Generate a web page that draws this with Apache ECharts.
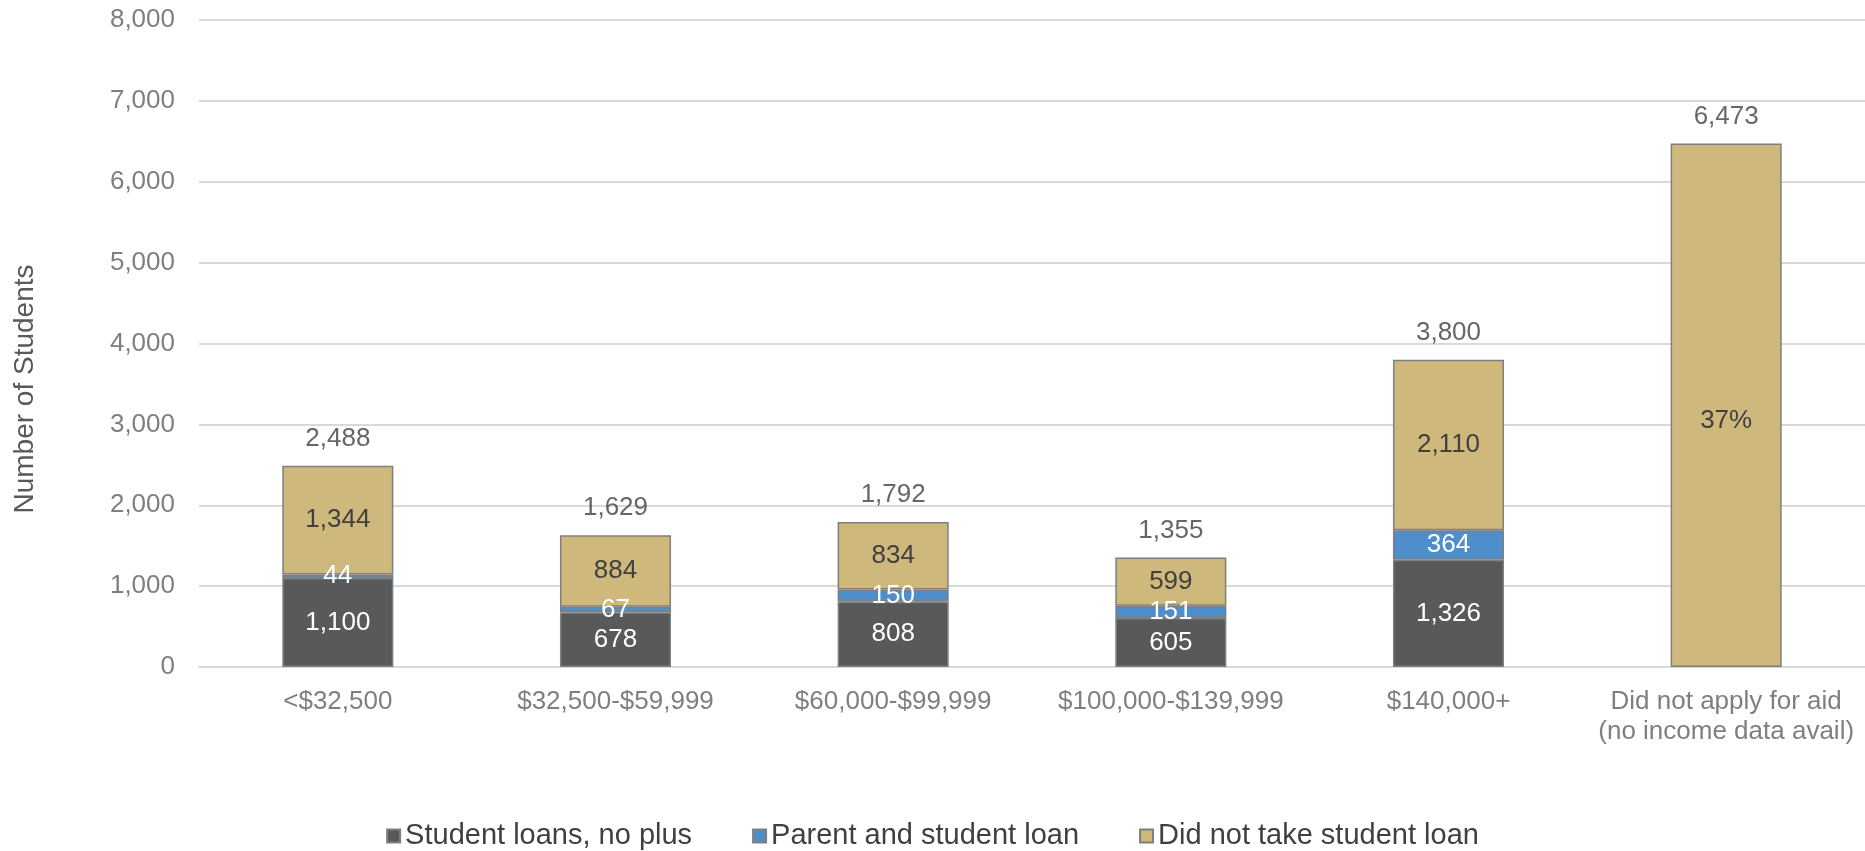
<!DOCTYPE html>
<html>
<head>
<meta charset="utf-8">
<script src="https://cdn.jsdelivr.net/npm/echarts@6/dist/echarts.min.js"></script>
<style>
  html, body { margin: 0; padding: 0; background: #ffffff; }
  #chart { width: 1865px; height: 851px; }
</style>
</head>
<body>
<div id="chart"></div>
<script>
// Income bands of students
const categories = ['<$32,500', '$32,500-$59,999', '$60,000-$99,999', '$100,000-$139,999', '$140,000+', 'Did not apply for aid\n(no income data avail)'];

// Number of students in each borrowing group
const studentLoansNoPlus = [1100, 678, 808, 605, 1326, null];
const parentAndStudentLoan = [44, 67, 150, 151, 364, null];
const didNotTakeLoan = [1344, 884, 834, 599, 2110, 6473];

// Share label shown on the no-aid bar
const noAidShareLabel = '37%';

const seriesNames = ['Student loans, no plus', 'Parent and student loan', 'Did not take student loan'];
const yTitle = 'Number of Students';
const yTicks = { min: 0, max: 8000, step: 1000 };

// Stack totals drawn above each bar
const totals = categories.map((_, i) =>
  (studentLoansNoPlus[i] || 0) + (parentAndStudentLoan[i] || 0) + (didNotTakeLoan[i] || 0));

const FONT = "'Liberation Sans', Arial, sans-serif";
const fmt = v => Number(v).toLocaleString('en-US');

const chart = echarts.init(document.getElementById('chart'), null, { renderer: 'canvas' });

const barBorder = { borderColor: '#7f7f7f', borderWidth: 1.5 };

chart.setOption({
  animation: false,
  backgroundColor: '#ffffff',
  textStyle: { fontFamily: FONT },
  grid: { left: 199, right: 0, top: 20, bottom: 184, containLabel: false },
  // Vertical axis title, placed to the left of the tick labels
  graphic: [{
    type: 'text',
    x: 25,
    y: 389,
    rotation: Math.PI / 2,
    silent: true,
    style: {
      text: yTitle,
      fontFamily: FONT,
      fontSize: 28,
      fill: '#595959',
      align: 'center',
      verticalAlign: 'middle'
    }
  }],
  legend: {
    data: seriesNames,
    top: 816,
    left: 'center',
    itemWidth: 13,
    itemHeight: 13,
    itemGap: 60,
    icon: 'rect',
    textStyle: { fontFamily: FONT, fontSize: 29, lineHeight: 30, color: '#404040' }
  },
  xAxis: {
    type: 'category',
    data: categories,
    axisTick: { show: false },
    axisLine: { show: true, lineStyle: { color: '#d9d9d9', width: 2 } },
    axisLabel: {
      fontFamily: FONT, fontSize: 26, color: '#7f7f7f', margin: 20, lineHeight: 30,
      interval: 0
    }
  },
  yAxis: {
    type: 'value',
    min: yTicks.min,
    max: yTicks.max,
    interval: yTicks.step,
    axisLine: { show: false },
    axisTick: { show: false },
    splitLine: { lineStyle: { color: '#d9d9d9', width: 2 } },
    axisLabel: {
      fontFamily: FONT, fontSize: 26, color: '#7f7f7f', margin: 24,
      formatter: v => fmt(v)
    }
  },
  series: [
    {
      name: seriesNames[0],
      type: 'bar',
      stack: 'students',
      barWidth: '40%',
      data: studentLoansNoPlus,
      itemStyle: Object.assign({ color: '#58595b' }, barBorder),
      label: {
        show: true, position: 'inside', color: '#ffffff',
        fontFamily: FONT, fontSize: 26,
        formatter: p => (p.value == null ? '' : fmt(p.value))
      }
    },
    {
      name: seriesNames[1],
      type: 'bar',
      stack: 'students',
      data: parentAndStudentLoan,
      itemStyle: Object.assign({ color: '#4e8fcb' }, barBorder),
      label: {
        show: true, position: 'inside', color: '#ffffff',
        fontFamily: FONT, fontSize: 26,
        formatter: p => (p.value == null ? '' : fmt(p.value))
      }
    },
    {
      name: seriesNames[2],
      type: 'bar',
      stack: 'students',
      data: didNotTakeLoan.map((v, i) =>
        i === categories.length - 1
          ? { value: v, label: { formatter: noAidShareLabel, position: ['50%', '53%'], align: 'center', verticalAlign: 'middle' } }
          : v),
      itemStyle: Object.assign({ color: '#cfb87c' }, barBorder),
      label: {
        show: true, position: 'inside', color: '#404040',
        fontFamily: FONT, fontSize: 26,
        formatter: p => fmt(p.value)
      }
    },
    {
      name: 'Total',
      type: 'scatter',
      data: totals,
      symbolSize: 0,
      silent: true,
      label: {
        show: true, position: 'top', distance: 14, color: '#404040',
        fontFamily: FONT, fontSize: 26,
        formatter: p => fmt(p.value)
      }
    }
  ]
});
</script>
</body>
</html>
